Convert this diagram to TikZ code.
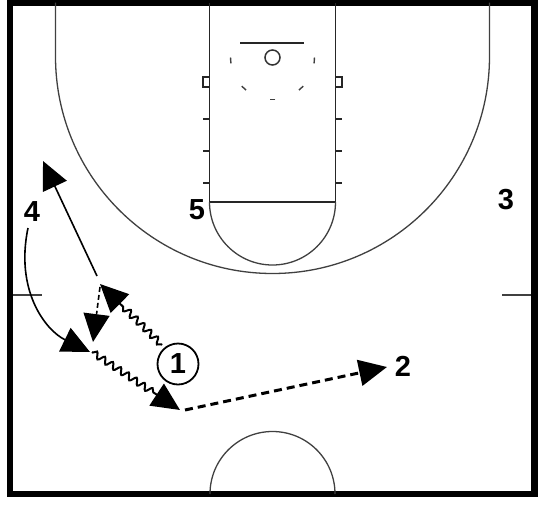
\documentclass[tikz,border=0pt]{standalone}
\usepackage{fontspec}
\setmainfont{Liberation Sans}
\usetikzlibrary{arrows.meta,decorations.pathmorphing}
\begin{document}
\begin{tikzpicture}[x=1pt,y=-1pt,
  courtline/.style={line width=1.6pt, black!85},
  thinline/.style={line width=1.3pt, black!75},
  bigarrow/.style={-{Triangle[length=28pt,width=26pt]}},
  wavy/.style={decorate, decoration={snake, amplitude=3.2pt, segment length=9.5pt, pre length=1pt, post length=29pt}, line width=2pt},
  lbl/.style={font=\fontsize{29}{32}\selectfont\bfseries, inner sep=0pt},
]
\useasboundingbox (0,0) rectangle (544,504);
\fill[white] (0,0) rectangle (544,504);
% outer border
\draw[line width=6.5pt] (10,2.5) rectangle (534.5,494);
% three-point line
\draw[thinline] (55.5,2.5) -- (55.5,56.5) arc[start angle=180, end angle=0, radius=217] -- (489.5,2.5);
% lane
\draw[courtline] (209.5,2.5) -- (209.5,202) -- (335.5,202) -- (335.5,2.5);
\draw[thinline] (209.5,202) arc[start angle=180, end angle=0, radius=63];
% hash marks
\draw[courtline] (203,77) rectangle (209.5,87);
\draw[courtline] (335.5,77) rectangle (342,87);
\foreach \yy in {119,151,183}{
  \draw[courtline] (203,\yy) -- (209.5,\yy);
  \draw[courtline] (335.5,\yy) -- (342,\yy);
}
% backboard and rim
\draw[courtline] (240,43) -- (304,43);
\node[draw, circle, line width=1.5pt, black!80, minimum size=15pt, inner sep=0pt] (rim) at (272.5,57.5) {};
\foreach \a in {176,133,90,47,4}{
  \draw[line width=1.4pt, black!75] (rim.center) ++(\a-4:42) arc[start angle=\a-4, end angle=\a+4, radius=42];
}
% half court ticks
\draw[thinline] (13,295) -- (42,295);
\draw[thinline] (502,295) -- (531,295);
% center circle
\draw[thinline] (210,494) arc[start angle=180, end angle=360, radius=62.5];
% players
\node[lbl] (p4) at (32,212) {4};
\node[lbl] (p5) at (197,210) {5};
\node[lbl] (p3) at (506,200) {3};
\node[lbl] (p2) at (403,366) {2};
\node[lbl, draw, circle, line width=1.8pt, minimum size=41pt] (p1) at (178,364) {1};
% movement coordinates
\coordinate (cutS) at (97,276);
\coordinate (cutE) at (43,161);
\coordinate (bS) at (100,287);
\coordinate (bE) at (93,342);
\coordinate (w1S) at (162,345);
\coordinate (w1E) at (100,284);
\coordinate (w2S) at (92,352);
\coordinate (w2E) at (180,410);
\coordinate (cS) at (28,228);
\coordinate (cE) at (90,352);
\coordinate (pS) at (185,410);
\coordinate (pE) at (387,367);
% cut
\draw[line width=1.6pt, bigarrow] (cutS) -- (cutE);
% short dashed
\draw[line width=1.6pt, dash pattern=on 5pt off 3pt, bigarrow] (bS) -- (bE);
% dribbles
\draw[wavy, bigarrow] (w1S) -- (w1E);
\draw[wavy, bigarrow] (w2S) -- (w2E);
% curved move of 4
\draw[line width=1.6pt, bigarrow] (cS) .. controls (15,290) and (45,330) .. (cE);
% pass
\draw[line width=3pt, dash pattern=on 8pt off 5pt, bigarrow] (pS) -- (pE);
\end{tikzpicture}
\end{document}
